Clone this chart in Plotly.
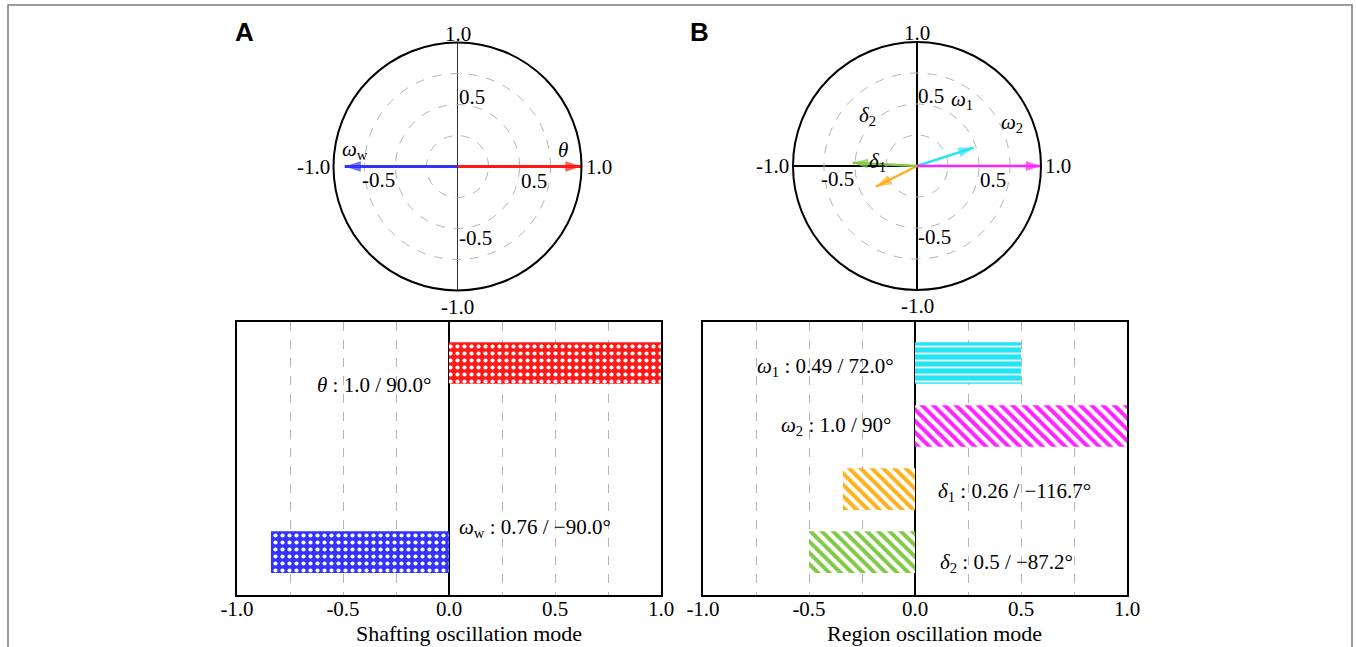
import plotly.graph_objects as go

# ---------------- data ----------------
# Panel A polar phasors (magnitude, angle in degrees, compass: 90 = right)
a_names = ["θ", "ωw"]
a_mag = [1.0, 0.91]
a_ang = [90.0, -90.0]
a_colors = ["#ff1a1a", "#3333ff"]

# Panel B polar phasors
b_names = ["ω1", "ω2", "δ1", "δ2"]
b_mag = [0.48, 1.0, 0.37, 0.52]
b_ang = [72.0, 90.0, -116.7, -87.2]
b_colors = ["#22e5f5", "#ff22ff", "#ffb01a", "#80c846"]

# Bar values (signed participation)
a_bar_vals = [1.0, -0.84]
a_bar_rows = [0, 3]
b_bar_vals = [0.5, 1.0, -0.34, -0.5]
b_bar_rows = [0, 1, 2, 3]

a_bar_labels = ["<i>θ</i> : 1.0 / 90.0°", "<i>ω</i><sub>w</sub> : 0.76 / −90.0°"]
b_bar_labels = ["<i>ω</i><sub>1</sub> : 0.49 / 72.0°", "<i>ω</i><sub>2</sub> : 1.0 / 90°",
                "<i>δ</i><sub>1</sub> : 0.26 / −116.7°", "<i>δ</i><sub>2</sub> : 0.5 / −87.2°"]

x_tickvals = [-1.0, -0.5, 0.0, 0.5, 1.0]
x_ticktext = ["-1.0", "-0.5", "0.0", "0.5", "1.0"]
x_minor = [-0.75, -0.25, 0.25, 0.75]
r_grid = [0.25, 0.5, 0.75]
polar_tick_text = ["1.0", "-1.0", "-1.0", "1.0", "0.5", "-0.5", "-0.5", "0.5"]

# ---------------- layout helpers ----------------
W, H = 1356, 647
def fx(p): return p / W
def fy(p): return 1 - p / H

SERIF = "Liberation Serif"
FS = 21
fig = go.Figure()

polA = dict(cx=457.5, cy=166.5, r=124)
polB = dict(cx=917.0, cy=166.0, r=124)

def pol_dom(p):
    return dict(x=[fx(p["cx"] - p["r"]), fx(p["cx"] + p["r"])],
                y=[fy(p["cy"] + p["r"]), fy(p["cy"] - p["r"])])

def polar_layout(p, tickvals, gcol, gw):
    return dict(
        domain=pol_dom(p),
        bgcolor="white",
        angularaxis=dict(rotation=90, direction="clockwise", tickvals=tickvals,
                         showticklabels=False, ticks="", showgrid=True,
                         gridcolor=gcol, gridwidth=gw, linecolor="black", linewidth=2),
        radialaxis=dict(range=[0, 1], tickvals=r_grid, showticklabels=False, ticks="",
                        showline=False, showgrid=True, gridcolor="#b4b4b4",
                        griddash="dash", gridwidth=1.2),
    )

def add_arrows(names, mags, angs, cols, sub, lw, hs):
    for n, m, a, c in zip(names, mags, angs, cols):
        fig.add_trace(go.Scatterpolar(
            r=[0, m], theta=[0, a], mode="lines+markers", subplot=sub,
            line=dict(color=c, width=lw),
            marker=dict(symbol="arrow", size=[0, hs], angle=[0, a], color=c,
                        line=dict(width=0)),
            showlegend=False, hoverinfo="skip"))

add_arrows(a_names, a_mag, a_ang, a_colors, "polar", 2.8, 17)
add_arrows(b_names, b_mag, b_ang, b_colors, "polar2", 2.5, 16)

# bars: one trace per bar so each gets its own pattern
a_pat = [dict(shape=".", fgcolor="white", bgcolor=a_colors[0], size=7, solidity=0.28),
         dict(shape=".", fgcolor="white", bgcolor=a_colors[1], size=7, solidity=0.28)]
b_pat = [dict(shape="-", fgcolor="white", bgcolor=b_colors[0], size=7, solidity=0.25),
         dict(shape="\\", fgcolor=b_colors[1], bgcolor="white", size=8, solidity=0.5),
         dict(shape="\\", fgcolor=b_colors[2], bgcolor="white", size=8, solidity=0.5),
         dict(shape="\\", fgcolor=b_colors[3], bgcolor="white", size=8, solidity=0.5)]

for v, r, c, p in zip(a_bar_vals, a_bar_rows, a_colors, a_pat):
    fig.add_trace(go.Bar(x=[v], y=[r], orientation="h", width=0.66,
                         marker=dict(color=c, line=dict(width=0), pattern=dict(fillmode="replace", **p)),
                         xaxis="x", yaxis="y", showlegend=False, hoverinfo="skip"))
for v, r, c, p in zip(b_bar_vals, b_bar_rows, b_colors, b_pat):
    fig.add_trace(go.Bar(x=[v], y=[r], orientation="h", width=0.66,
                         marker=dict(color=c, line=dict(width=0), pattern=dict(fillmode="replace", **p)),
                         xaxis="x2", yaxis="y2", showlegend=False, hoverinfo="skip"))

# overlay axes for polar labels
fig.add_trace(go.Scatter(x=[None], y=[None], xaxis="x3", yaxis="y3", showlegend=False))
fig.add_trace(go.Scatter(x=[None], y=[None], xaxis="x4", yaxis="y4", showlegend=False))

bar_top, bar_bot = 322, 595
y_range = [3.68, -0.65]

def xax(dom, anchor):
    return dict(domain=dom, anchor=anchor, range=[-1, 1], tickvals=x_tickvals,
                ticktext=x_ticktext, ticks="", ticklen=0, ticklabelstandoff=-6,
                showline=True, mirror=True,
                linecolor="black", linewidth=1.6, showgrid=True, gridcolor="#b4b4b4",
                griddash="dash", gridwidth=1.2, zeroline=True, zerolinecolor="black",
                zerolinewidth=1.6, automargin=False,
                minor=dict(tickvals=x_minor, showgrid=True, gridcolor="#b4b4b4",
                           griddash="dash", gridwidth=1.2, ticks=""),
                tickfont=dict(family=SERIF, size=FS, color="black"), fixedrange=True)

def yax(anchor):
    return dict(domain=[fy(bar_bot), fy(bar_top)], anchor=anchor, range=y_range,
                showticklabels=False, ticks="", showgrid=False, zeroline=False,
                showline=True, mirror=True, linecolor="black", linewidth=1.6,
                automargin=False, fixedrange=True)

def hid(dom, anchor):
    return dict(domain=dom, anchor=anchor, range=[-1, 1], visible=False,
                automargin=False, fixedrange=True)

dA = pol_dom(polA)
dB = pol_dom(polB)

annotations = []
for t, px in (("A", 244), ("B", 699)):
    annotations.append(dict(text=f"<b>{t}</b>", x=fx(px), y=fy(32), xref="paper", yref="paper",
                            xanchor="center", yanchor="middle", showarrow=False,
                            font=dict(family="Liberation Sans", size=26, color="black")))
for t, px in (("Shafting oscillation mode", 469), ("Region oscillation mode", 934)):
    annotations.append(dict(text=t, x=fx(px), y=fy(633), xref="paper", yref="paper",
                            xanchor="center", yanchor="middle", showarrow=False,
                            font=dict(family=SERIF, size=22, color="black")))

# polar tick-label placement: (x, y, xanchor, yanchor, xshift, yshift)
pt_pos = [(0, 1, "center", "bottom", 0, -4), (0, -1, "center", "top", 0, -3),
          (-1, 0, "right", "middle", -3, 0), (1, 0, "left", "middle", 3, 0),
          (0, 0.5, "left", "bottom", 0, -5), (0, -0.5, "left", "top", 0, 4),
          (-0.5, 0, "right", "top", 0, 0), (0.5, 0, "left", "top", 0, -1)]
for xr, yr in (("x3", "y3"), ("x4", "y4")):
    for txt, (x, y, xa, ya, xs, ys) in zip(polar_tick_text, pt_pos):
        annotations.append(dict(text=txt, x=x, y=y, xref=xr, yref=yr, xanchor=xa, yanchor=ya,
                                xshift=xs, yshift=ys, showarrow=False, borderpad=0,
                                font=dict(family=SERIF, size=FS, color="black")))

a_name_txt = ["<i>θ</i>", "<i>ω</i><sub>w</sub>"]
a_name_pos = [(0.85, 0.13), (-0.83, 0.13)]
b_name_txt = ["<i>ω</i><sub>1</sub>", "<i>ω</i><sub>2</sub>", "<i>δ</i><sub>1</sub>", "<i>δ</i><sub>2</sub>"]
b_name_pos = [(0.36, 0.53), (0.77, 0.35), (-0.32, 0.03), (-0.40, 0.40)]
for txt, (x, y) in zip(a_name_txt, a_name_pos):
    annotations.append(dict(text=txt, x=x, y=y, xref="x3", yref="y3", showarrow=False,
                            xanchor="center", yanchor="middle",
                            font=dict(family=SERIF, size=FS, color="black")))
for txt, (x, y) in zip(b_name_txt, b_name_pos):
    annotations.append(dict(text=txt, x=x, y=y, xref="x4", yref="y4", showarrow=False,
                            xanchor="center", yanchor="middle",
                            font=dict(family=SERIF, size=FS, color="black")))

a_lab_pos = [(-0.075, 0.35, "right"), (0.04, 2.62, "left")]
b_lab_pos = [(-0.09, 0.06, "right"), (-0.10, 1.0, "right"), (0.10, 2.05, "left"), (0.11, 3.17, "left")]
for txt, (x, y, xa) in zip(a_bar_labels, a_lab_pos):
    annotations.append(dict(text=txt, x=x, y=y, xref="x", yref="y", xanchor=xa, yanchor="middle",
                            showarrow=False, font=dict(family=SERIF, size=FS, color="black")))
for txt, (x, y, xa) in zip(b_bar_labels, b_lab_pos):
    annotations.append(dict(text=txt, x=x, y=y, xref="x2", yref="y2", xanchor=xa, yanchor="middle",
                            showarrow=False, font=dict(family=SERIF, size=FS, color="black")))

fig.update_layout(
    width=W, height=H, margin=dict(l=0, r=0, t=0, b=0, pad=0, autoexpand=False),
    paper_bgcolor="white", plot_bgcolor="white", showlegend=False,
    polar=polar_layout(polA, [0, 180], "#333333", 1.2),
    polar2=polar_layout(polB, [0, 90, 180, 270], "black", 1.6),
    xaxis=xax([fx(237), fx(661)], "y"), yaxis=yax("x"),
    xaxis2=xax([fx(703), fx(1127)], "y2"), yaxis2=yax("x2"),
    xaxis3=hid(dA["x"], "y3"), yaxis3=hid(dA["y"], "x3"),
    xaxis4=hid(dB["x"], "y4"), yaxis4=hid(dB["y"], "x4"),
    annotations=annotations,
    shapes=[dict(type="rect", xref="paper", yref="paper", x0=fx(8), x1=fx(1352),
                 y0=-0.1, y1=fy(5), line=dict(color="#7a7a7a", width=1.5))],
)

fig.write_html("out.html", config={"displayModeBar": False},
               post_script="document.body.style.margin='0';document.body.style.overflow='hidden';")
